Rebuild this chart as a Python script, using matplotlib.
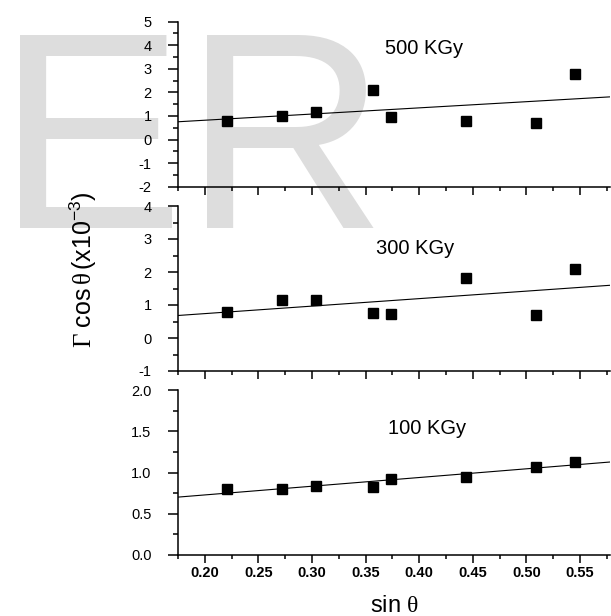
import numpy as np
import matplotlib
matplotlib.use("Agg")
import matplotlib.pyplot as plt
from matplotlib.ticker import MultipleLocator, FormatStrFormatter

plt.rcParams['font.family'] = ['Liberation Sans', 'DejaVu Sans']
plt.rcParams['mathtext.fontset'] = 'custom'
plt.rcParams['mathtext.rm'] = 'Liberation Serif'
plt.rcParams['mathtext.it'] = 'Liberation Serif'
plt.rcParams['mathtext.sf'] = 'Liberation Sans'

# ---- data ----
sin_theta = [0.221, 0.272, 0.304, 0.357, 0.374, 0.444, 0.509, 0.545]
g500 = [0.80, 1.00, 1.18, 2.09, 0.97, 0.77, 0.70, 2.79]
g300 = [0.78, 1.16, 1.14, 0.75, 0.73, 1.82, 0.69, 2.08]
g100 = [0.80, 0.80, 0.84, 0.82, 0.92, 0.95, 1.07, 1.13]
dose_labels = ["500 KGy", "300 KGy", "100 KGy"]
x_ticks = [0.20, 0.25, 0.30, 0.35, 0.40, 0.45, 0.50, 0.55]

W, H = 611, 616
fig = plt.figure(figsize=(W / 100, H / 100), dpi=100)

# watermark
fig.text(-3 / W, (H - 228) / H, "ER", fontsize=202, color='#dddddd',
         ha='left', va='baseline', zorder=-5, family='Liberation Sans')

left = 178 / W
width = 432 / W
hgt = 165 / H
panels = [
    dict(bottom=(H - 186.7) / H, y=g500, ylim=(-2, 5), major=1, minor=0.5, fmt='%d',
         lab=dose_labels[0], lx=0.479, ly=0.804),
    dict(bottom=(H - 371) / H, y=g300, ylim=(-1, 4), major=1, minor=0.5, fmt='%d',
         lab=dose_labels[1], lx=0.458, ly=0.712),
    dict(bottom=(H - 555) / H, y=g100, ylim=(0, 2), major=0.5, minor=0.25, fmt='%.1f',
         lab=dose_labels[2], lx=0.486, ly=0.731),
]

xlim = (0.175, 0.578)
for i, p in enumerate(panels):
    ax = fig.add_axes([left, p['bottom'], width, hgt])
    ax.patch.set_alpha(0)
    x = np.array(sin_theta)
    y = np.array(p['y'])
    ax.plot(x, y, 's', color='black', markersize=7, zorder=3)
    k, b = np.polyfit(x, y, 1)
    xl = np.array(xlim)
    ax.plot(xl, k * xl + b, '-', color='black', lw=0.8, zorder=2)
    ax.set_xlim(*xlim)
    ax.set_ylim(*p['ylim'])
    for s in ['top', 'right']:
        ax.spines[s].set_visible(False)
    for s in ['left', 'bottom']:
        ax.spines[s].set_linewidth(1.1)
    ax.xaxis.set_major_locator(MultipleLocator(0.05))
    ax.xaxis.set_minor_locator(MultipleLocator(0.025))
    ax.yaxis.set_major_locator(MultipleLocator(p['major']))
    ax.yaxis.set_minor_locator(MultipleLocator(p['minor']))
    ax.yaxis.set_major_formatter(FormatStrFormatter(p['fmt']))
    ax.tick_params(axis='x', which='major', direction='out', length=6, width=1.1,
                   pad=1.8, labelsize=10.5)
    ax.tick_params(axis='x', which='minor', direction='out', length=3, width=1.1)
    ax.tick_params(axis='y', which='major', direction='out', length=7.5, width=1.1,
                   pad=11.5, labelsize=10.5)
    ax.tick_params(axis='y', which='minor', direction='out', length=3.6, width=1.1)
    if i < 2:
        ax.tick_params(axis='x', labelbottom=False)
    else:
        ax.set_xticks(x_ticks)
        ax.xaxis.set_major_formatter(FormatStrFormatter('%.2f'))
        for t in ax.get_xticklabels():
            t.set_fontweight('bold')
    ax.text(p['lx'], p['ly'], p['lab'], transform=ax.transAxes, fontsize=14.5,
            ha='left', va='baseline')

fig.text(left + width / 2, 4 / H, r'$\mathsf{sin}\ \theta$', fontsize=17,
         ha='center', va='baseline')
fig.text(83 / W, (H - 270) / H, r'$\Gamma\ \mathsf{cos}\,\theta\,\mathsf{(x10^{-3})}$',
         fontsize=18, rotation=90, ha='center', va='center')

fig.savefig('out.png', dpi=100)
